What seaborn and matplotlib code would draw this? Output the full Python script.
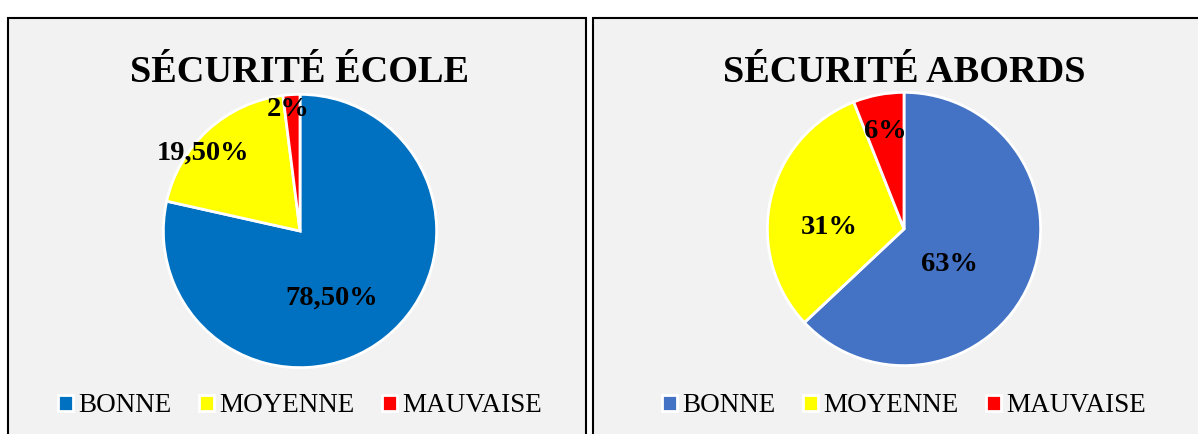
import pandas as pd
import numpy as np
import seaborn as sns
import matplotlib.pyplot as plt
from matplotlib.patches import Rectangle

class SecuriteAnalysis:

    def __init__(self,dfs,layout):
        self.dfs = dfs
        self.layout = layout

    def eda(self):
        sns.set_style('white')
        plt.rcParams['font.family'] = ['Liberation Serif', 'DejaVu Serif']
        plt.rcParams['text.color'] = 'black'
        W, H = 1198., 434.
        fig = plt.figure(figsize=(11.98, 4.34), dpi=100)

        for titre, df in self.dfs.items():
            x0, x1, cx, cy, r = self.layout[titre]
            #panel background with black frame
            fig.patches.append(Rectangle((x0 / W, -0.1), (x1 - x0) / W, 1.1 - 18 / H, transform=fig.transFigure,
                                         facecolor='#f2f2f2', edgecolor='black', lw=1.5, zorder=-5))
            plt.figtext(cx / W, (H - 82) / H, titre, ha='center', va='baseline', fontsize=27.5, fontweight='bold')

            ax = plt.axes([(cx - r) / W, (H - cy - r) / H, 2 * r / W, 2 * r / H])
            ax.patch.set_alpha(0)
            palette = sns.color_palette(df['Couleur'].tolist())
            wedges, _ = plt.pie(df['Valeur'], colors=palette, startangle=90, counterclock=False,
                                wedgeprops={'edgecolor': 'white', 'linewidth': 2})
            for lab, lx, ly in zip(df['Label'], df['lx'], df['ly']):
                plt.text(lx, ly, lab, ha='center', va='center', fontsize=20.5, fontweight='bold')
            plt.xlim(-1.01, 1.01)
            plt.ylim(-1.01, 1.01)

            plt.legend(wedges, df['Niveau'], loc='center', bbox_to_anchor=(cx / W, (H - 406) / H),
                       bbox_transform=fig.transFigure, ncol=3, frameon=False, fontsize=19.5,
                       handlelength=0.55, handleheight=0.55, handletextpad=0.2, columnspacing=1.0)

        plt.savefig('out.png', dpi=100)

if __name__ == "__main__":
    ecole = pd.DataFrame({'Niveau': ['BONNE', 'MOYENNE', 'MAUVAISE'],
                          'Valeur': [78.5, 19.5, 2.0],
                          'Label': ['78,50%', '19,50%', '2%'],
                          'Couleur': ['#0070c0', '#ffff00', '#ff0000'],
                          'lx': [0.23, -0.71, -0.09],
                          'ly': [-0.49, 0.57, 0.89]})
    abords = pd.DataFrame({'Niveau': ['BONNE', 'MOYENNE', 'MAUVAISE'],
                           'Valeur': [63, 31, 6],
                           'Label': ['63%', '31%', '6%'],
                           'Couleur': ['#4472c4', '#ffff00', '#ff0000'],
                           'lx': [0.33, -0.55, -0.14],
                           'ly': [-0.26, 0.01, 0.71]})
    e = SecuriteAnalysis(dfs={'SÉCURITÉ ÉCOLE': ecole, 'SÉCURITÉ ABORDS': abords},
                         layout={'SÉCURITÉ ÉCOLE': (8, 586, 300, 231, 138),
                                 'SÉCURITÉ ABORDS': (593, 1215, 904, 229, 138)})
    e.eda()
